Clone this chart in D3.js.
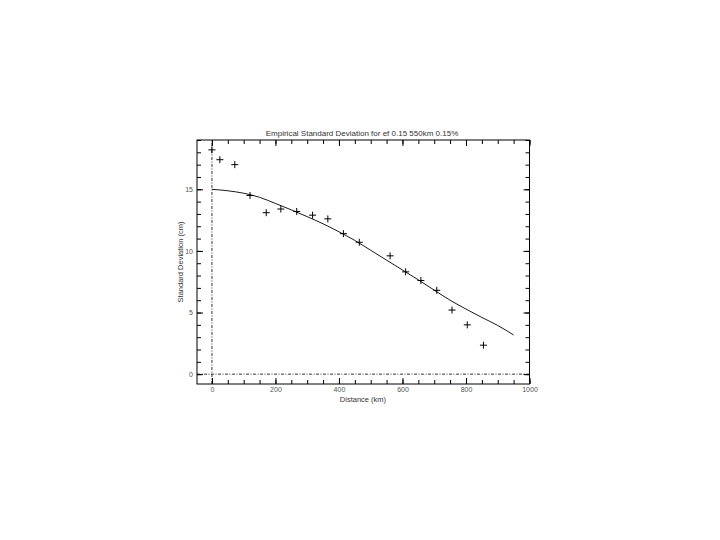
<html>
<script src='https://d3js.org/d3.v7.min.js'></script>
<style>
body {margin: 0; background: white;}
text {font-family: 'Liberation Sans', Arial, sans-serif; fill: #333;}
</style>
<body onload='init()'>
<svg width=720 height=540>
</svg>
<script>
// measured points (distance km, std dev cm)
var ptDist = [0, 25, 72, 120, 171, 217, 267, 317, 365, 414, 464, 561, 610, 658, 708, 756, 804, 855];
var ptStd  = [18.2, 17.4, 17.0, 14.5, 13.1, 13.4, 13.2, 12.9, 12.6, 11.4, 10.7, 9.6, 8.3, 7.6, 6.8, 5.2, 4.0, 2.35];

// fitted curve
var fitDist = [0, 50, 100, 150, 200, 250, 300, 350, 400, 450, 500, 550, 600, 650, 700, 750, 800, 850, 900, 950];
var fitStd  = [15.0, 14.88, 14.68, 14.35, 13.85, 13.33, 12.78, 12.2, 11.55, 10.85, 10.05, 9.25, 8.45, 7.65, 6.82, 6.0, 5.28, 4.6, 3.95, 3.18];

var xMajor = [0, 200, 400, 600, 800, 1000];
var yMajor = [0, 5, 10, 15];

var titleText = "Empirical Standard Deviation for ef 0.15 550km 0.15%";
var xTitle = "Distance (km)";
var yTitle = "Standard Deviation (cm)";

function init() {
	var left = 197, right = 529.5, top = 140, bottom = 384;
	var x = d3.scaleLinear().domain([-47, 1000]).range([left, right]);
	var y = d3.scaleLinear().domain([-0.8, 19]).range([bottom, top]);
	var svg = d3.select("svg");

	var xMinor = d3.range(-50, 1001, 50).filter(v => v >= -47);
	var yMinor = d3.range(0, 20, 1);

	// minor ticks, all four sides
	svg.append("g").attr("transform","translate(0,"+bottom+")")
		.call(d3.axisBottom(x).tickValues(xMinor).tickSize(-4).tickFormat(""));
	svg.append("g").attr("transform","translate(0,"+top+")")
		.call(d3.axisTop(x).tickValues(xMinor).tickSize(-4).tickFormat(""));
	svg.append("g").attr("transform","translate("+left+",0)")
		.call(d3.axisLeft(y).tickValues(yMinor).tickSize(-4).tickFormat(""));
	svg.append("g").attr("transform","translate("+right+",0)")
		.call(d3.axisRight(y).tickValues(yMinor).tickSize(-4).tickFormat(""));

	// major ticks with labels
	var gx = svg.append("g").attr("transform","translate(0,"+bottom+")")
		.call(d3.axisBottom(x).tickValues(xMajor).tickFormat(d3.format("d")).tickSizeInner(-6).tickSizeOuter(0).tickPadding(3));
	var gy = svg.append("g").attr("transform","translate("+left+",0)")
		.call(d3.axisLeft(y).tickValues(yMajor).tickFormat(d3.format("d")).tickSizeInner(-6).tickSizeOuter(0).tickPadding(4));
	svg.append("g").attr("transform","translate(0,"+top+")")
		.call(d3.axisTop(x).tickValues(xMajor).tickSize(-6).tickFormat(""));
	svg.append("g").attr("transform","translate("+right+",0)")
		.call(d3.axisRight(y).tickValues(yMajor).tickSize(-6).tickFormat(""));

	svg.selectAll(".domain").remove();
	svg.selectAll(".tick line").attr("stroke", "black").attr("stroke-width", 1);
	gx.selectAll("text").style("font-size", "7px").style("fill", "#555")
		.attr("font-family", "'Liberation Sans', Arial, sans-serif");
	gy.selectAll("text").style("font-size", "7px").style("fill", "#555")
		.attr("font-family", "'Liberation Sans', Arial, sans-serif");

	// frame
	svg.append("rect").attr("x", left).attr("y", top)
		.attr("width", right-left).attr("height", bottom-top)
		.attr("fill", "none").attr("stroke", "black").attr("stroke-width", 1);

	// zero lines
	svg.append("line").attr("x1", left).attr("x2", right)
		.attr("y1", y(0)).attr("y2", y(0))
		.attr("stroke", "black").attr("stroke-width", 0.8).attr("stroke-dasharray", "3,1.5,1,1.5");
	svg.append("line").attr("x1", x(0)).attr("x2", x(0))
		.attr("y1", bottom).attr("y2", top)
		.attr("stroke", "black").attr("stroke-width", 0.8).attr("stroke-dasharray", "3,1.5,1,1.5");

	// fit curve
	var fit = fitDist.map((d,i) => [d, fitStd[i]]);
	svg.append("path").datum(fit)
		.attr("d", d3.line().x(d => x(d[0])).y(d => y(d[1])).curve(d3.curveMonotoneX))
		.attr("fill", "none").attr("stroke", "black").attr("stroke-width", 0.9);

	// plus markers
	var pts = ptDist.map((d,i) => [d, ptStd[i]]);
	svg.append("g").selectAll("path").data(pts).enter().append("path")
		.attr("d", d => "M"+(x(d[0])-3.5)+","+y(d[1])+"h7M"+x(d[0])+","+(y(d[1])-3.5)+"v7")
		.attr("stroke", "black").attr("stroke-width", 1);

	// titles
	svg.append("text").attr("x", 362).attr("y", 136).attr("text-anchor", "middle")
		.style("font-size", "8px").text(titleText);
	svg.append("text").attr("x", 363).attr("y", 402).attr("text-anchor", "middle")
		.style("font-size", "7.5px").text(xTitle);
	svg.append("text").attr("transform", "translate(183,"+((top+bottom)/2)+") rotate(-90)")
		.attr("text-anchor", "middle").style("font-size", "7.5px").text(yTitle);
}
</script>
</body>
</html>
